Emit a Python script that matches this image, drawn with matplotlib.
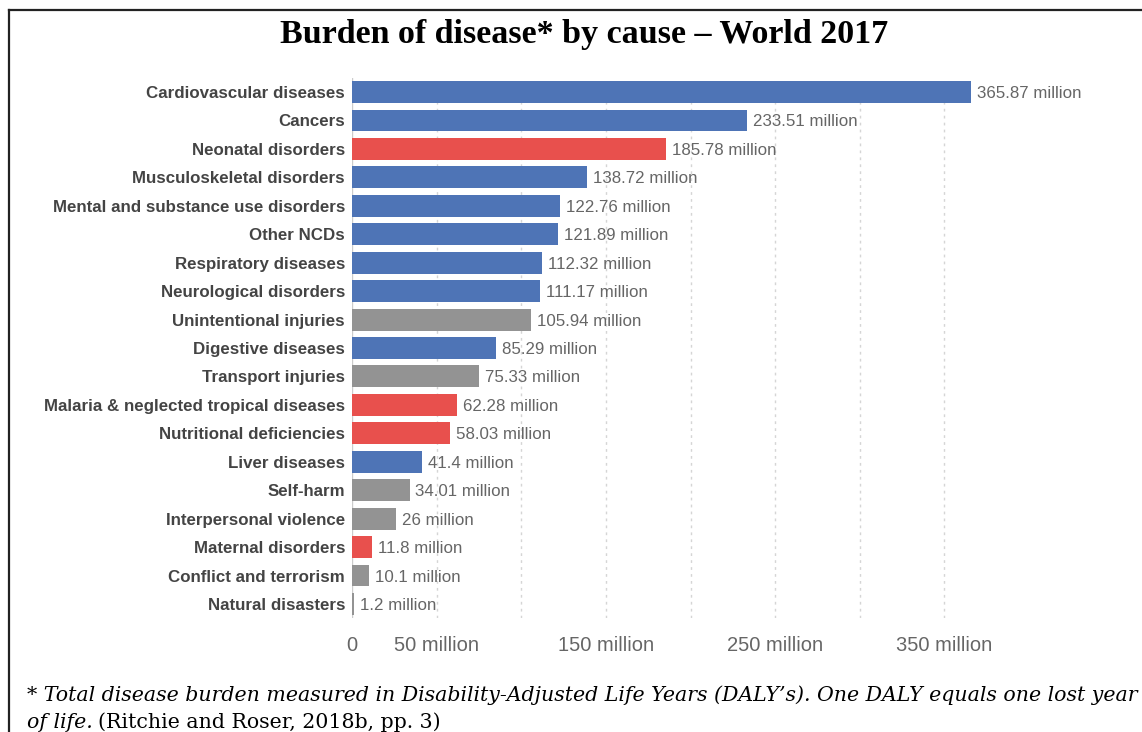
import matplotlib.pyplot as plt
from matplotlib.lines import Line2D

causes = ["Cardiovascular diseases", "Cancers", "Neonatal disorders",
          "Musculoskeletal disorders", "Mental and substance use disorders",
          "Other NCDs", "Respiratory diseases", "Neurological disorders",
          "Unintentional injuries", "Digestive diseases", "Transport injuries",
          "Malaria & neglected tropical diseases", "Nutritional deficiencies",
          "Liver diseases", "Self-harm", "Interpersonal violence",
          "Maternal disorders", "Conflict and terrorism", "Natural disasters"]
dalys = [365.87, 233.51, 185.78, 138.72, 122.76, 121.89, 112.32, 111.17,
         105.94, 85.29, 75.33, 62.28, 58.03, 41.4, 34.01, 26, 11.8, 10.1, 1.2]
value_labels = ["365.87", "233.51", "185.78", "138.72", "122.76", "121.89",
                "112.32", "111.17", "105.94", "85.29", "75.33", "62.28",
                "58.03", "41.4", "34.01", "26", "11.8", "10.1", "1.2"]
# n = non-communicable, c = communicable/maternal/neonatal/nutritional, i = injuries
groups = ["n", "n", "c", "n", "n", "n", "n", "n", "i", "n", "i", "c", "c",
          "n", "i", "i", "c", "i", "i"]
tick_vals = [0, 50, 150, 250, 350]
tick_labels = ["0", "50 million", "150 million", "250 million", "350 million"]
grid_vals = [50, 100, 150, 200, 250, 300, 350]

colors = {"n": "#4e74b6", "c": "#e8504d", "i": "#939393"}

W, H = 1142, 732
fig = plt.figure(figsize=(W / 100, H / 100), dpi=100)

# page frame
fig.add_artist(Line2D([9 / W, 9 / W], [0, 1 - 10 / H], transform=fig.transFigure,
                      color="#222222", lw=1.6))
fig.add_artist(Line2D([9 / W, 1], [1 - 10 / H, 1 - 10 / H], transform=fig.transFigure,
                      color="#222222", lw=1.6))

x0, x1 = 352, 1029          # pixel span for 0..400 million
ytop, ybot = 77.8, 618.2
ax = fig.add_axes([x0 / W, 1 - ybot / H, (x1 - x0) / W, (ybot - ytop) / H])

ypos = list(range(len(causes)))
ax.barh(ypos, dalys, height=0.77, color=[colors[g] for g in groups], zorder=2)
ax.set_xlim(0, 400)
ax.set_ylim(len(causes) - 0.5, -0.5)

for v in grid_vals:
    ax.axvline(v, color="#d5d5d5", lw=1, ls=(0, (2, 3)), zorder=1)
ax.axvline(0, color="#cccccc", lw=1, zorder=1)

for y, v, lab in zip(ypos, dalys, value_labels):
    ax.text(v + 3.5, y, lab + " million", va="center_baseline", ha="left",
            fontsize=12.2, color="#666666", family="Liberation Sans", clip_on=False)

ax.set_yticks(ypos)
ax.set_yticklabels(causes, fontsize=12.2, fontweight="bold", color="#444444",
                   family="Liberation Sans", va="center_baseline")
ax.set_xticks(tick_vals)
ax.set_xticklabels(tick_labels, fontsize=14.5, color="#666666", family="Liberation Sans")
ax.tick_params(axis="y", length=0, pad=5)
ax.tick_params(axis="x", length=0, pad=13)
for s in ax.spines.values():
    s.set_visible(False)

fig.text(584 / W, 1 - 35 / H, "Burden of disease* by cause \u2013 World 2017",
         ha="center", va="center", fontsize=24.5, fontweight="bold",
         family="Liberation Serif")

fig.text(27 / W, 1 - 695 / H,
         "* Total disease burden measured in Disability-Adjusted Life Years (DALY\u2019s). "
         "One DALY equals one lost year",
         ha="left", va="center", fontsize=14.8, style="italic", family="DejaVu Serif")
t1 = fig.text(27 / W, 1 - 722 / H, "of life.", ha="left", va="center",
              fontsize=14.8, style="italic", family="DejaVu Serif")
fig.canvas.draw()
bb = t1.get_window_extent()
fig.text((bb.x1 + 5) / W, 1 - 722 / H, "(Ritchie and Roser, 2018b, pp. 3)",
         ha="left", va="center", fontsize=14.8, family="DejaVu Serif")

fig.savefig("out.png", dpi=100)
